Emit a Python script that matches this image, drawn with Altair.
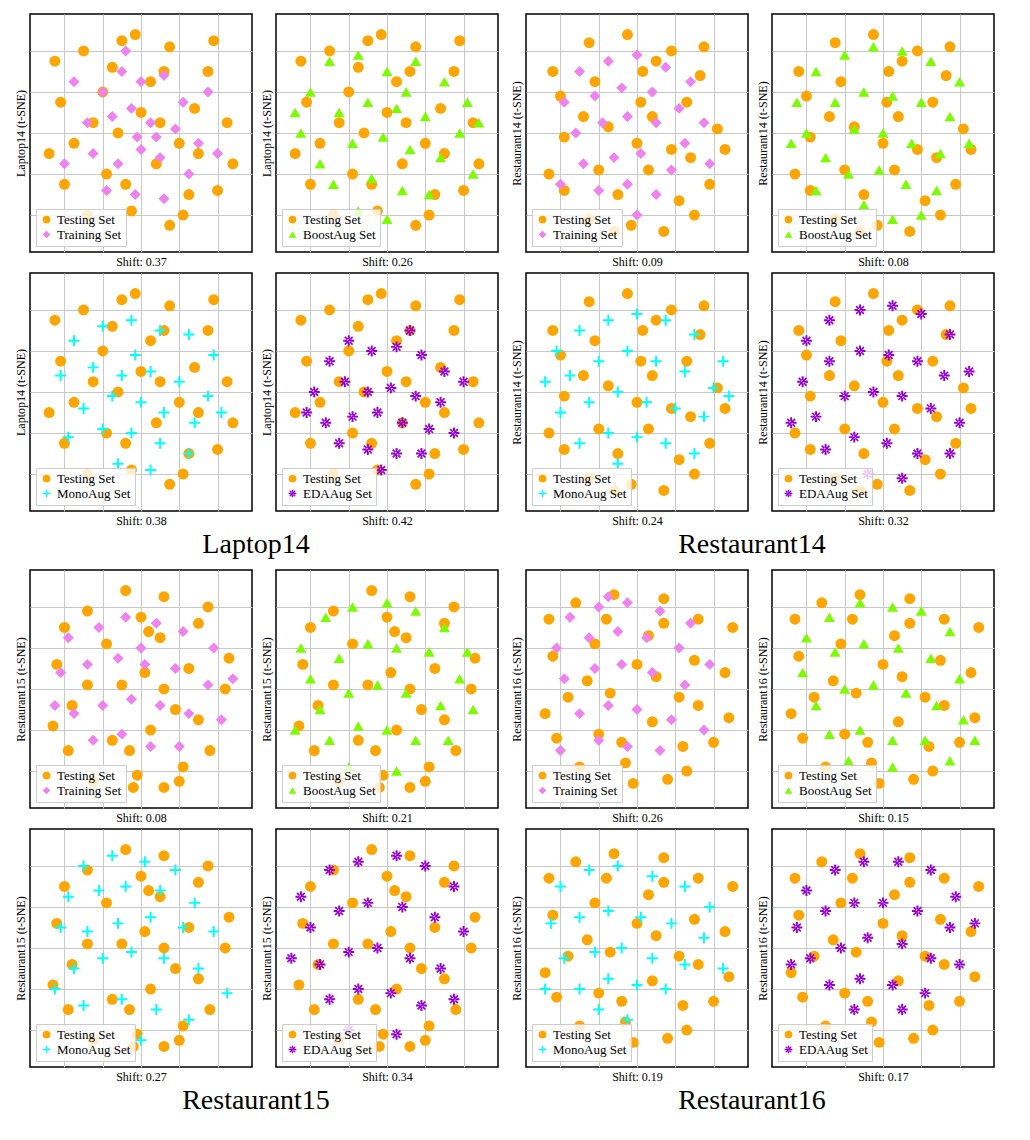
import altair as alt
import pandas as pd

SERIF = "'Liberation Serif', 'DejaVu Serif', serif"
PLUS = "M-0.18,-1H0.18V-0.18H1V0.18H0.18V1H-0.18V0.18H-1V-0.18H-0.18Z"
AST = (PLUS + "M0.601,0.813L0.813,0.601L-0.601,-0.813L-0.813,-0.601Z"
       "M-0.601,0.813L-0.813,0.601L0.601,-0.813L0.813,-0.601Z")
STYLE = {
    "Testing Set": ("#FFA500", "circle"),
    "Training Set": ("#EE82EE", "diamond"),
    "BoostAug Set": ("#7CFC00", "triangle-up"),
    "MonoAug Set": ("#00FFFF", PLUS),
    "EDAAug Set": ("#9400D3", AST),
}

datasets = ["Laptop14", "Restaurant14", "Restaurant15", "Restaurant16"]
aug_names = ["Training Set", "BoostAug Set", "MonoAug Set", "EDAAug Set"]
shifts = {
    "Laptop14": [0.37, 0.26, 0.38, 0.42],
    "Restaurant14": [0.09, 0.08, 0.24, 0.32],
    "Restaurant15": [0.08, 0.21, 0.27, 0.34],
    "Restaurant16": [0.26, 0.15, 0.19, 0.17],
}

# flat x,y pairs (t-SNE coordinates, arbitrary units)
test_pts = {
    "Laptop14": [-30,40,-10,45,15,42,35,30,-42,15,-20,20,5,25,28,12,45,5,-35,-5,-12,0,10,5,30,-10,-40,-25,-18,-20,8,-15,25,-30,40,-28,-28,-40,-5,-38,15,-45,-45,35,0,10,20,-5,-25,5,38,45,-8,-25,12,30,-3,48,22,-40,-48,-10,48,-15,-15,32],
    "Restaurant14": [-25,44,-5,48,18,40,33,28,-40,18,-22,25,3,30,26,15,42,2,-38,-2,-15,3,8,8,28,-12,-38,-28,-20,-18,6,-18,22,-33,38,-25,-25,-42,-3,-45,14,-48,-44,30,2,15,18,-8,-28,8,35,42,-10,-30,10,35,0,-5,-12,-48,30,-40,46,-8,-46,-20],
    "Restaurant15": [-28,38,-8,48,12,45,30,32,-44,12,-18,22,4,28,25,10,44,0,-36,-8,-10,2,12,0,30,-15,-38,-30,-15,-25,5,-20,22,-38,36,-30,-25,-45,-2,-42,12,-48,-40,30,2,8,18,-10,-28,2,35,40,-6,-30,10,25,-4,-48,20,-45,46,15,-46,-18,0,35],
    "Restaurant16": [-32,42,-12,46,14,44,32,34,-44,16,-22,22,6,26,30,14,46,8,-36,-4,-14,-2,10,6,32,-8,-42,-24,-20,-22,8,-16,24,-28,40,-26,-30,-38,-6,-36,16,-44,-46,34,0,12,22,-4,-26,4,50,30,-8,-26,14,32,-2,-46,26,-40,-48,-12,48,-14,-16,34],
}
aug_pts = {
    ("Laptop14", 0): [-20,20,-10,30,0,25,12,28,22,15,-28,5,-15,8,-5,12,5,5,18,2,30,-5,-25,-10,-12,-15,0,-8,10,-12,25,-20,-18,-28,-3,-30,12,-32,-35,25,35,20,-40,-15,40,-10,-8,40,8,-2,-2,-2],
    ("Laptop14", 1): [-40,20,-30,35,-15,38,0,30,15,35,30,25,42,15,-45,0,-25,10,-10,15,5,12,20,8,38,0,-35,-15,-18,-5,-2,-2,12,-8,28,-12,45,-20,-28,-25,-8,-22,8,-28,22,-30,-15,-38,0,-42,-48,10,48,5,10,20],
    ("Laptop14", 2): [-35,25,-20,32,-5,35,10,30,25,28,38,18,-42,8,-25,12,-10,8,5,10,20,5,35,-2,-30,-8,-15,-2,0,-5,12,-10,28,-15,-38,-22,-20,-18,-5,-20,10,-25,25,-30,-12,-35,5,-38,42,-10,-3,18],
    ("Laptop14", 3): [-30,15,-20,25,-8,20,5,22,18,18,30,10,-38,0,-22,5,-10,0,2,2,15,-2,28,-5,-32,-15,-18,-12,-5,-10,8,-15,22,-18,35,-20,-25,-25,-10,-28,5,-30,18,-30,-3,-38,40,5,-42,-10,12,30],
    ("Restaurant14", 0): [-30,30,-15,35,0,38,15,32,28,25,-38,15,-22,18,-8,22,8,20,22,12,35,5,-32,0,-18,5,-5,8,10,5,25,-5,-28,-15,-12,-12,2,-10,18,-18,-20,-28,-5,-25,10,-30,-40,-25,38,-15,0,-40],
    ("Restaurant14", 1): [-45,15,-35,30,-20,38,-5,42,10,40,25,35,40,25,-40,0,-25,15,-10,20,5,18,20,15,35,8,-30,-12,-15,2,0,0,15,-5,30,-10,45,-5,-35,-28,-18,-20,-2,-18,12,-25,28,-28,-10,-35,5,-42,-48,-5,20,-40],
    ("Restaurant14", 2): [-42,20,-30,30,-15,35,0,38,15,35,30,28,45,15,-35,8,-20,15,-5,20,10,15,25,10,40,2,-40,-10,-25,-5,-10,0,5,-5,20,-8,35,-12,-30,-25,-15,-20,0,-22,15,-25,30,-30,-10,-35,48,-2,-48,5],
    ("Restaurant14", 3): [-40,25,-28,35,-12,40,5,42,20,38,35,28,45,10,-42,5,-28,15,-12,20,3,18,18,15,32,8,-35,-12,-20,-2,-5,0,10,-2,25,-8,40,-15,-30,-28,-15,-22,2,-25,18,-30,35,-30,-8,-40,10,-42,-48,-15],
    ("Restaurant15", 0): [-38,25,-22,30,-8,35,8,32,22,28,38,20,-42,8,-28,12,-12,15,2,12,18,10,35,2,-35,-12,-20,-8,-5,-5,10,-8,25,-12,42,-15,-25,-25,-10,-22,5,-28,20,-28,-45,-8,48,5,0,20],
    ("Restaurant15", 1): [-45,20,-32,35,-18,40,0,42,15,38,30,30,42,18,-40,5,-25,15,-10,22,5,20,22,18,38,5,-35,-10,-20,-2,-5,2,10,-2,28,-8,45,-10,-30,-25,-15,-18,0,-20,15,-25,32,-25,-20,-38,5,-40,-48,-20],
    ("Restaurant15", 2): [-30,40,-15,45,2,42,18,38,-38,25,-22,28,-8,30,10,28,28,22,-42,10,-28,8,-12,12,5,15,22,10,38,8,-35,-10,-20,-5,-5,-2,12,-5,30,-10,-30,-28,-10,-25,8,-30,25,-35,-45,-20,45,-22,0,-45],
    ("Restaurant15", 3): [-45,25,-30,38,-15,42,5,45,20,40,35,30,-40,10,-25,18,-10,22,8,20,25,15,40,8,-35,-8,-20,-2,-5,0,12,-5,28,-10,-30,-25,-15,-20,2,-22,18,-28,35,-25,-20,-40,5,-42,-50,-5],
    ("Restaurant16", 0): [-35,35,-20,40,-5,42,12,38,28,32,-42,20,-25,25,-10,28,5,25,22,20,38,12,-38,5,-22,10,-8,12,8,8,25,2,-30,-12,-15,-8,0,-10,18,-15,-20,-25,-5,-28,12,-30,-40,-30,35,-20,-15,45],
    ("Restaurant16", 1): [-40,25,-28,35,-12,42,5,40,20,38,35,28,-42,8,-25,18,-10,22,8,20,25,15,40,5,-35,-8,-20,0,-5,2,12,-2,28,-8,42,-15,-28,-22,-12,-20,5,-25,22,-25,-18,-35,5,-38,35,-35,48,-25],
    ("Restaurant16", 2): [-40,30,-25,38,-10,40,8,35,25,30,38,20,-45,12,-30,15,-15,18,2,15,18,12,35,5,-38,-5,-22,-2,-8,0,8,-5,25,-8,-30,-20,-15,-15,0,-18,15,-20,-20,-30,-5,-35,45,-10,-48,-20],
    ("Restaurant16", 3): [-40,28,-25,38,-10,42,8,42,25,38,38,25,-45,10,-30,18,-15,22,0,22,18,18,35,10,-38,-5,-22,0,-8,5,10,2,25,-5,40,-8,-28,-18,-12,-15,5,-18,22,-22,-15,-30,10,-30,48,12,-48,-8],
}


def panel(ds, k):
    aug = aug_names[k]
    tp, ap = test_pts[ds], aug_pts[(ds, k)]
    rows = [{"x": tp[i], "y": tp[i + 1], "set": "Testing Set"} for i in range(0, len(tp), 2)]
    rows += [{"x": ap[i], "y": ap[i + 1], "set": aug} for i in range(0, len(ap), 2)]
    df = pd.DataFrame(rows)
    dom = ["Testing Set", aug]
    ax = dict(labels=False, ticks=False, domain=False, grid=True, gridColor="#c8c8c8",
              tickCount=5, titleFont=SERIF, titleFontWeight="normal", titleColor="black")
    return alt.Chart(df).mark_point(filled=True, opacity=1, size=120, strokeWidth=0).encode(
        x=alt.X("x:Q", scale=alt.Scale(domain=[-58, 58], nice=False),
                axis=alt.Axis(title=f"Shift: {shifts[ds][k]}", titleFontSize=12, titlePadding=4, **ax)),
        y=alt.Y("y:Q", scale=alt.Scale(domain=[-58, 58], nice=False),
                axis=alt.Axis(title=f"{ds} (t-SNE)", titleFontSize=12, titlePadding=3, **ax)),
        color=alt.Color("set:N", scale=alt.Scale(domain=dom, range=[STYLE[d][0] for d in dom]),
                        legend=alt.Legend(title=None, orient="bottom-left", fillColor="rgba(255,255,255,0.8)",
                                          strokeColor="#cccccc", padding=4, offset=6,
                                          labelFont=SERIF, labelFontSize=13, symbolSize=60, rowPadding=1)),
        shape=alt.Shape("set:N", scale=alt.Scale(domain=dom, range=[STYLE[d][1] for d in dom]),
                        legend=alt.Legend(title=None, orient="bottom-left")),
    ).properties(width=222, height=238)


def res(c):
    return c.resolve_scale(color="independent", shape="independent")


def group(ds):
    r1 = res(alt.hconcat(panel(ds, 0), panel(ds, 1), spacing=6))
    r2 = res(alt.hconcat(panel(ds, 2), panel(ds, 3), spacing=6))
    return res(alt.vconcat(r1, r2, spacing=4)).properties(
        title=alt.TitleParams(ds, orient="bottom", anchor="middle", fontSize=28, font=SERIF,
                              fontWeight="normal", color="black", offset=4))


top = res(alt.hconcat(group("Laptop14"), group("Restaurant14"), spacing=10))
bot = res(alt.hconcat(group("Restaurant15"), group("Restaurant16"), spacing=10))
chart = res(alt.vconcat(top, bot, spacing=10)).configure_view(stroke="black", strokeWidth=1.5)

chart.save("out.html", embed_options={"renderer": "svg", "actions": False})
